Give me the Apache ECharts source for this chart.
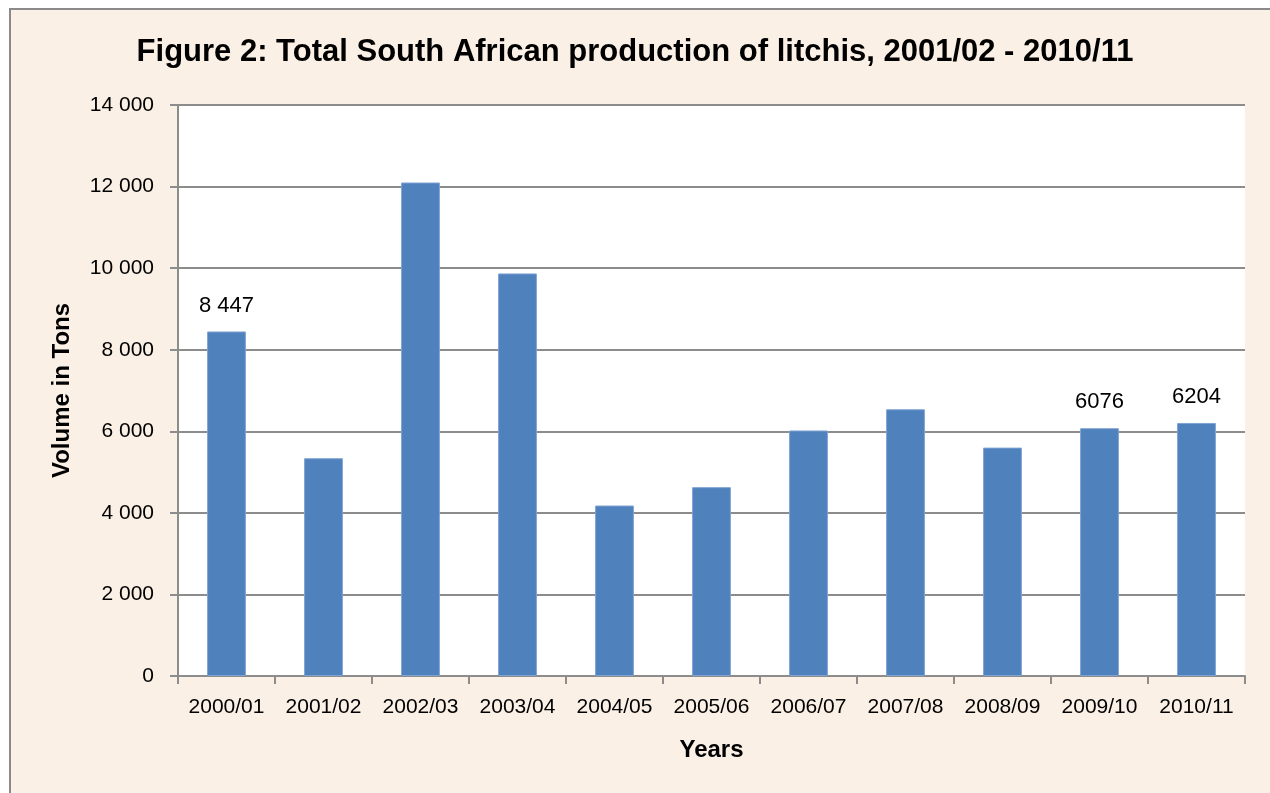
<!DOCTYPE html>
<html>
<head>
<meta charset="utf-8">
<title>Litchi production</title>
<script src="https://cdn.jsdelivr.net/npm/echarts@6/dist/echarts.min.js"></script>
<style>
  html, body { margin: 0; padding: 0; background: #fff; }
  #chart { width: 1270px; height: 793px; }
</style>
</head>
<body>
<div id="chart"></div>
<script>
// 年份类别和产量（吨）
const years = ['2000/01', '2001/02', '2002/03', '2003/04', '2004/05', '2005/06',
  '2006/07', '2007/08', '2008/09', '2009/10', '2010/11']
const volumes = [8447, 5340, 12100, 9870, 4180, 4630, 6020, 6540, 5600, 6076, 6204]
// 只有部分柱子带数值标签
const barLabels = ['8 447', '', '', '', '', '', '', '', '', '6076', '6204']
const yTicks = [0, 2000, 4000, 6000, 8000, 10000, 12000, 14000]

const font = "'Liberation Sans Narrow', 'Arial Narrow', 'Liberation Sans', sans-serif"

function withSpace (v) {
  return String(v).replace(/\B(?=(\d{3})+(?!\d))/g, ' ')
}

const myChart = echarts.init(document.getElementById('chart'))

const option = {
  animation: false,
  backgroundColor: '#fff',
  textStyle: { fontFamily: font },
  graphic: [
    {
      type: 'rect',
      z: -10,
      shape: { x: 10, y: 9, width: 1280, height: 800 },
      style: { fill: '#fbf0e6', stroke: '#8a8a8a', lineWidth: 2 }
    }
  ],
  title: {
    text: 'Figure 2: Total South African production of litchis, 2001/02 - 2010/11',
    left: 'center',
    top: 32,
    textStyle: {
      fontFamily: font,
      fontSize: 31,
      fontWeight: 'bold',
      color: '#000'
    }
  },
  grid: {
    left: 178,
    right: 25,
    top: 105,
    bottom: 117,
    show: true,
    backgroundColor: '#fff',
    borderWidth: 0
  },
  xAxis: {
    type: 'category',
    data: years,
    name: 'Years',
    nameLocation: 'middle',
    nameGap: 62,
    nameTextStyle: { fontFamily: font, fontSize: 24, fontWeight: 'bold', color: '#000' },
    axisLine: { lineStyle: { color: '#8c8c8c', width: 2 } },
    axisTick: { show: true, length: 8, lineStyle: { color: '#8c8c8c', width: 2 } },
    axisLabel: { fontFamily: font, fontSize: 21, color: '#000', margin: 21, interval: 0 }
  },
  yAxis: {
    type: 'value',
    min: 0,
    max: 14000,
    interval: 2000,
    name: 'Volume in Tons',
    nameLocation: 'middle',
    nameGap: 104,
    nameTextStyle: { fontFamily: font, fontSize: 24, fontWeight: 'bold', color: '#000' },
    axisLine: { show: true, lineStyle: { color: '#8c8c8c', width: 2 } },
    axisTick: { show: true, length: 8, lineStyle: { color: '#8c8c8c', width: 2 } },
    axisLabel: {
      fontFamily: font,
      fontSize: 21,
      color: '#000',
      margin: 24,
      formatter: function (v) {
        return yTicks.indexOf(v) >= 0 ? withSpace(v) : ''
      }
    },
    splitLine: { lineStyle: { color: '#8c8c8c', width: 2 } }
  },
  series: [
    {
      type: 'bar',
      barWidth: '40%',
      itemStyle: { color: '#4f81bd', borderColor: '#7fa3d3', borderWidth: 1 },
      data: volumes.map(function (v, i) {
        return {
          value: v,
          label: {
            show: barLabels[i] !== '',
            position: 'top',
            distance: 15,
            formatter: barLabels[i],
            fontFamily: font,
            fontSize: 22,
            color: '#000'
          }
        }
      })
    }
  ]
}

myChart.setOption(option)
window.addEventListener('resize', () => {
  myChart.resize()
})
</script>
</body>
</html>
